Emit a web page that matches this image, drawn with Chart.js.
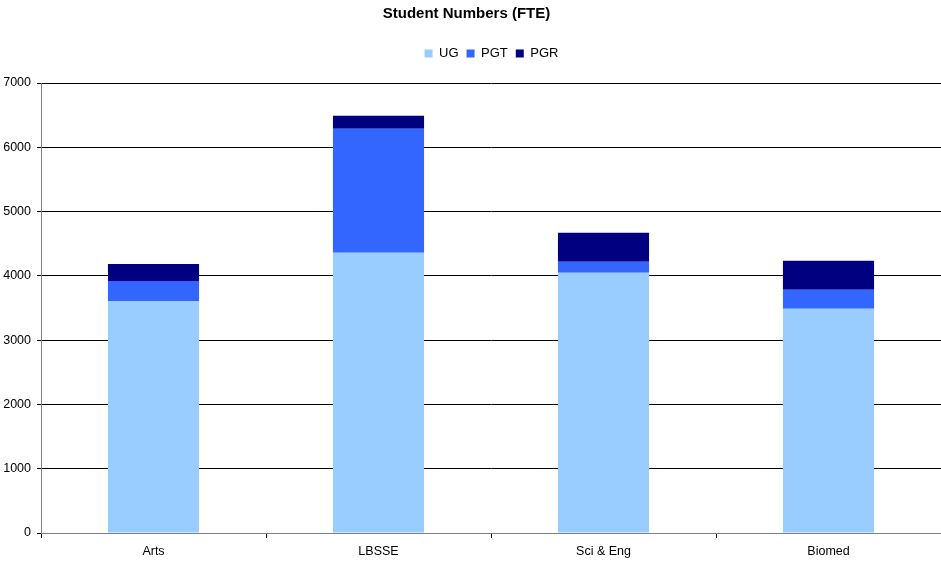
<!DOCTYPE html>
<html>
<head>
<meta charset="utf-8">
<script src="https://cdn.jsdelivr.net/npm/chart.js@4.4.1/dist/chart.umd.min.js"></script>
<style>
  html, body { margin: 0; padding: 0; background: #fff; }
  #wrap { width: 941px; height: 562px; position: relative; }
</style>
</head>
<body>
<div id="wrap"><canvas id="c"></canvas></div>
<script>
// Faculties and full-time-equivalent student counts per level
const categories = ['Arts', 'LBSSE', 'Sci & Eng', 'Biomed'];
const ugValues  = [3610, 4360, 4050, 3490];
const pgtValues = [310, 1930, 170, 295];
const pgrValues = [265, 200, 450, 450];
const yTicks = [0, 1000, 2000, 3000, 4000, 5000, 6000, 7000];

const font = 'Liberation Sans, Arial, sans-serif';

// Shift a layout box horizontally when it is drawn
function nudge(box, dx) {
  const draw = box.draw;
  box.draw = function () {
    const ctx = this.ctx;
    ctx.save();
    ctx.translate(dx, 0);
    draw.apply(this, arguments);
    ctx.restore();
  };
}

// Extra space under the legend, and small offsets for title and legend
const headerTweaks = {
  id: 'headerTweaks',
  beforeLayout(chart) {
    const lg = chart.legend;
    if (!lg || lg._tweaked) return;
    lg._tweaked = true;
    const fit = lg.fit;
    lg.fit = function () { fit.call(this); this.height += 13; };
    nudge(lg, 21);
    if (chart.titleBlock) nudge(chart.titleBlock, -4);
  }
};

new Chart(document.getElementById('c'), {
  type: 'bar',
  data: {
    labels: categories,
    datasets: [
      { label: 'UG',  data: ugValues,  backgroundColor: '#99CCFF' },
      { label: 'PGT', data: pgtValues, backgroundColor: '#3366FF' },
      { label: 'PGR', data: pgrValues, backgroundColor: '#000080' }
    ]
  },
  plugins: [headerTweaks],
  options: {
    responsive: true,
    maintainAspectRatio: false,
    animation: false,
    layout: { padding: { left: 0, right: 0, top: 5, bottom: 0 } },
    datasets: { bar: { barPercentage: 0.405, categoryPercentage: 1 } },
    plugins: {
      title: {
        display: true,
        text: 'Student Numbers (FTE)',
        color: '#000',
        font: { family: font, size: 15, weight: 'bold' },
        padding: { top: 0, bottom: 16 }
      },
      legend: {
        display: true,
        labels: {
          color: '#000',
          font: { family: font, size: 13 },
          boxWidth: 8,
          boxHeight: 8,
          padding: 8
        }
      },
      tooltip: { enabled: false }
    },
    scales: {
      x: {
        stacked: true,
        afterFit: s => { s.height = 29; },
        grid: { offset: true, drawOnChartArea: false, color: '#000', tickLength: 5 },
        border: { color: '#808080', width: 1 },
        ticks: { color: '#000', font: { family: font, size: 12.5 }, padding: 6 }
      },
      y: {
        stacked: true,
        min: 0,
        max: 7000,
        afterFit: s => { s.width = 41; },
        afterBuildTicks: s => { s.ticks = yTicks.map(v => ({ value: v })); },
        grid: { color: '#000', lineWidth: 1, tickLength: 4 },
        border: { color: '#808080', width: 1 },
        ticks: {
          color: '#000',
          font: { family: font, size: 12.5 },
          padding: 6,
          callback: v => String(v)
        }
      }
    }
  }
});
</script>
</body>
</html>
